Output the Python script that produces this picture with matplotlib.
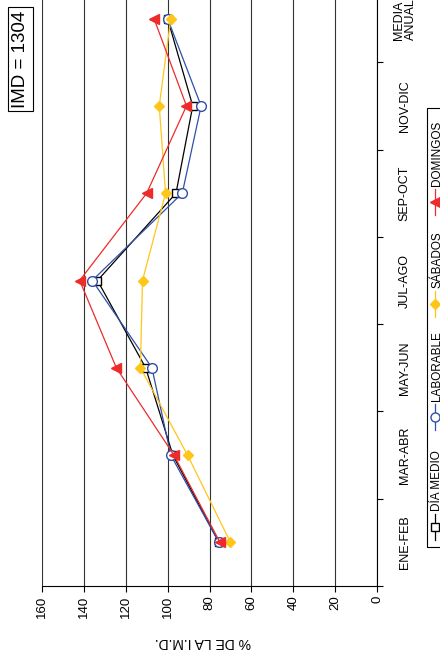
import matplotlib
matplotlib.use("Agg")
import matplotlib.pyplot as plt
from matplotlib.lines import Line2D
from matplotlib.patches import Rectangle

plt.rcParams['font.family'] = ['Liberation Sans', 'DejaVu Sans']

# data (chart is drawn rotated 90 degrees: values run right-to-left)
categories = ["ENE-FEB", "MAR-ABR", "MAY-JUN", "JUL-AGO", "SEP-OCT", "NOV-DIC", "MEDIA\nANUAL"]
dia_medio = [75.5, 97.5, 110.5, 133.5, 96, 88, 100]
laborable = [75.5, 98.5, 107.5, 136, 93, 84, 100]
sabados = [70, 90.5, 113, 112, 101, 104, 98.5]
domingos = [75, 97, 124.5, 142, 110, 91, 106.5]
series_names = ["DÍA MEDIO", "LABORABLE", "SÁBADOS", "DOMINGOS"]
imd_label = "IMD = 1304"
value_ticks = [0, 20, 40, 60, 80, 100, 120, 140, 160]

W, H = 440, 659
fig = plt.figure(figsize=(W / 100, H / 100), dpi=100)
fig.patch.set_facecolor('white')

# axes: left edge = 160, right edge = 0; top runs off the figure
ax = fig.add_axes([42 / W, (H - 586) / H, (377 - 42) / W, (586 + 25) / H])
pos = list(range(len(categories)))

styles = [
    dict(color='black', marker='s', mfc='white', mec='black', ms=6),
    dict(color='#2f4fa8', marker='o', mfc='white', mec='#2f4fa8', ms=7),
    dict(color='#ffc61a', marker='D', mfc='#ffc61a', mec='#ffc61a', ms=5.5),
    dict(color='#ee2b2b', marker='<', mfc='#ee2b2b', mec='#ee2b2b', ms=7),
]
for vals, st in zip([dia_medio, laborable, sabados, domingos], styles):
    ax.plot(vals, pos, lw=0.9, clip_on=False, zorder=3, **st)

ax.set_xlim(160, 0)
ax.set_ylim(-0.5, len(categories) - 0.5)
ax.set_xticks(value_ticks)
ax.set_xticklabels([str(v) for v in value_ticks], rotation=90, fontsize=9.5)
ax.tick_params(axis='x', direction='out', length=4, width=0.8, pad=3, colors='black')
ax.xaxis.grid(True, color='#333333', lw=0.8)
ax.set_axisbelow(True)

ax.yaxis.tick_right()
ax.set_yticks(pos)
ax.set_yticklabels(categories, rotation=90, fontsize=9, va='center', ha='center',
                   multialignment='left', linespacing=0.95)
ax.set_yticks([p - 0.5 for p in pos] + [len(pos) - 0.5], minor=True)
ax.tick_params(axis='y', which='major', length=0, pad=20)
ax.tick_params(axis='y', which='minor', direction='out', length=4, width=0.8)

for side in ['top', 'left']:
    ax.spines[side].set_visible(False)
ax.spines['bottom'].set_linewidth(0.8)
ax.spines['right'].set_linewidth(0.8)

fig.text(203 / W, 1 - 642 / H, "% DE LA I.M.D.", rotation=180, ha='center', va='center', fontsize=10)

fig.text(20.5 / W, 1 - 59 / H, imd_label, rotation=90, ha='center', va='center', fontsize=13.5,
         bbox=dict(boxstyle='square,pad=0.2', fc='white', ec='black', lw=0.8))

# legend, drawn by hand in rotated orientation
def fx(x):
    return x / W

def fy(y):
    return 1 - y / H

fig.add_artist(Rectangle((fx(427), fy(547)), fx(460) - fx(427), fy(108) - fy(547),
                         transform=fig.transFigure, fill=False, ec='black', lw=0.8))
leg_y = [527, 417, 304, 202]
for name, st, yc in zip(series_names, styles, leg_y):
    fig.add_artist(Line2D([fx(435), fx(435)], [fy(yc + 13), fy(yc - 13)],
                          transform=fig.transFigure, color=st['color'], lw=0.9))
    fig.add_artist(Line2D([fx(435)], [fy(yc)], transform=fig.transFigure, ls='none',
                          marker=st['marker'], mfc=st['mfc'], mec=st['mec'], ms=st['ms'] - 0.5))
    fig.text(fx(437), fy(yc - 16), name, rotation=90, ha='center', va='bottom', fontsize=8.5)

fig.savefig("out.png", dpi=100)
